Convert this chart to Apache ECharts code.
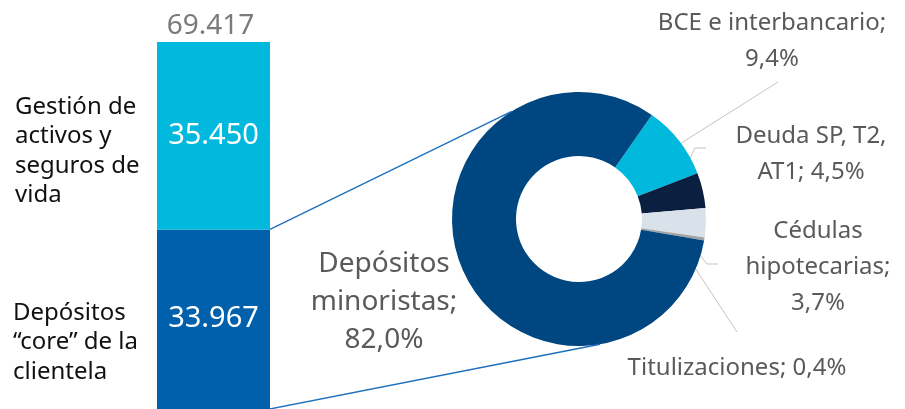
<!DOCTYPE html>
<html>
<head>
<meta charset="utf-8">
<script src="https://cdn.jsdelivr.net/npm/echarts@6/dist/echarts.min.js"></script>
<style>
    html, body { margin: 0; padding: 0; background: #fff; }
    #chart { width: 905px; height: 409px; }
</style>
</head>
<body>
<div id="chart"></div>
<script>
// barra apilada - datos
var barNames = ['Depósitos\n“core” de la\nclientela', 'Gestión de\nactivos y\nseguros de\nvida'];
var barValues = [33967, 35450];
var barColors = ['#0060ab', '#00b9dc'];

// donut - composición de financiación
var pieNames = ['BCE e interbancario', 'Deuda SP, T2, AT1', 'Cédulas hipotecarias', 'Titulizaciones', 'Depósitos minoristas'];
var pieValues = [9.4, 4.5, 3.7, 0.4, 82.0];
var pieLabels = ['BCE e interbancario;\n{v}', 'Deuda SP, T2,\nAT1; {v}', 'Cédulas\nhipotecarias;\n{v}', 'Titulizaciones; {v}', 'Depósitos\nminoristas;\n{v}'];
var pieColors = ['#00b9dc', '#0b1f41', '#d9e1ea', '#a3a3a3', '#004782'];

var FONT = '"Noto Sans"';
var pieCenter = [579, 219];
var pieRadius = [63, 127];
var startAngle = 55;

function fmtMiles(n) {
    return String(n).replace(/\B(?=(\d{3})+(?!\d))/g, '.');
}
function fmtPct(n) {
    return n.toFixed(1).replace('.', ',') + '%';
}

var total = 0;
for (var i = 0; i < barValues.length; i++) total += barValues[i];
var pieSum = 0;
for (var j = 0; j < pieValues.length; j++) pieSum += pieValues[j];

// punto en el anillo (ángulo en grados, sentido horario desde las 12)
function ringPoint(deg, r) {
    var a = deg * Math.PI / 180;
    return [pieCenter[0] + r * Math.sin(a), pieCenter[1] - r * Math.cos(a)];
}
function midAngle(idx) {
    var acc = 90 - startAngle;
    for (var k = 0; k < idx; k++) acc += pieValues[k] / pieSum * 360;
    return acc + pieValues[idx] / pieSum * 180;
}

// posición de las etiquetas y quiebre de las líneas guía
var labelPos = [[772, 41], [811, 154], [818, 267], [737, 368], [384, 302]];
var lineBend = [[778, 82], [695, 148], [707, 264], [737, 332], null];
var lineEnd = [[778, 82], [706, 148], [718, 264], [737, 332], null];

var series = [];
for (var s = 0; s < barValues.length; s++) {
    series.push({
        type: 'bar',
        stack: 'total',
        barWidth: '100%',
        data: [barValues[s]],
        itemStyle: { color: barColors[s] },
        silent: true,
        label: {
            show: true,
            position: 'inside',
            color: '#fff',
            fontFamily: FONT,
            fontSize: 29,
            formatter: function (p) { return fmtMiles(p.value); }
        }
    });
}
// total encima de la barra
series.push({
    type: 'bar',
    stack: 'total',
    data: [0],
    silent: true,
    label: {
        show: true,
        position: 'top',
        distance: 2,
        offset: [-3, 0],
        color: '#7b7b7b',
        fontFamily: FONT,
        fontSize: 28,
        formatter: function () { return fmtMiles(total); }
    }
});

var pieData = [];
for (var d = 0; d < pieValues.length; d++) {
    pieData.push({
        name: pieNames[d],
        value: pieValues[d],
        itemStyle: { color: pieColors[d] },
        labelLine: { show: d < 4 },
        // la etiqueta grande de depósitos minoristas
        label: d === 4 ? { fontSize: 28, lineHeight: 38 } : undefined
    });
}
series.push({
    type: 'pie',
    center: pieCenter,
    radius: pieRadius,
    startAngle: startAngle,
    avoidLabelOverlap: false,
    silent: true,
    data: pieData,
    itemStyle: { borderWidth: 0 },
    label: {
        show: true,
        position: 'outside',
        color: '#5a5a5a',
        fontFamily: FONT,
        fontSize: 24,
        lineHeight: 36,
        align: 'center',
        formatter: function (p) {
            return pieLabels[p.dataIndex].replace('{v}', fmtPct(p.value));
        }
    },
    labelLine: { show: true, lineStyle: { color: '#c3c3c3', width: 1 } },
    labelLayout: function (p) {
        var i = p.dataIndex;
        var out = {
            x: labelPos[i][0],
            y: labelPos[i][1],
            align: 'center',
            verticalAlign: 'middle'
        };
        if (lineBend[i]) {
            out.labelLinePoints = [ringPoint(midAngle(i), 95), lineBend[i], lineEnd[i]];
        }
        return out;
    }
});

var myChart = echarts.init(document.getElementById('chart'));
myChart.setOption({
    animation: false,
    grid: { left: 157, width: 113, top: 42, bottom: -2 },
    xAxis: { type: 'category', data: [''], show: false },
    yAxis: { type: 'value', min: 0, max: total, show: false },
    series: series
});

// textos de la izquierda y líneas que unen la barra con el donut
var topPt = myChart.convertToPixel({ gridIndex: 0 }, [0, barValues[0]]);
var botPt = myChart.convertToPixel({ gridIndex: 0 }, [0, 0]);
var barRight = topPt[0] + 113 / 2;
var p1 = ringPoint(-32, pieRadius[1]);
var p2 = ringPoint(170.5, pieRadius[1]);
myChart.setOption({
    graphic: [
        {
            type: 'text', left: 15, top: 92, silent: true,
            style: { text: barNames[1], fill: '#111111', fontFamily: FONT, fontSize: 24, fontWeight: 'normal', lineHeight: 29.5 }
        },
        {
            type: 'text', left: 13, top: 298, silent: true,
            style: { text: barNames[0], fill: '#111111', fontFamily: FONT, fontSize: 24, fontWeight: 'normal', lineHeight: 29.5 }
        },
        {
            type: 'line', silent: true, z: 10,
            shape: { x1: barRight, y1: topPt[1], x2: p1[0], y2: p1[1] },
            style: { stroke: '#1b6fbd', lineWidth: 1.3 }
        },
        {
            type: 'line', silent: true, z: 10,
            shape: { x1: barRight, y1: botPt[1], x2: p2[0], y2: p2[1] },
            style: { stroke: '#1b6fbd', lineWidth: 1.3 }
        }
    ]
});
</script>
</body>
</html>
